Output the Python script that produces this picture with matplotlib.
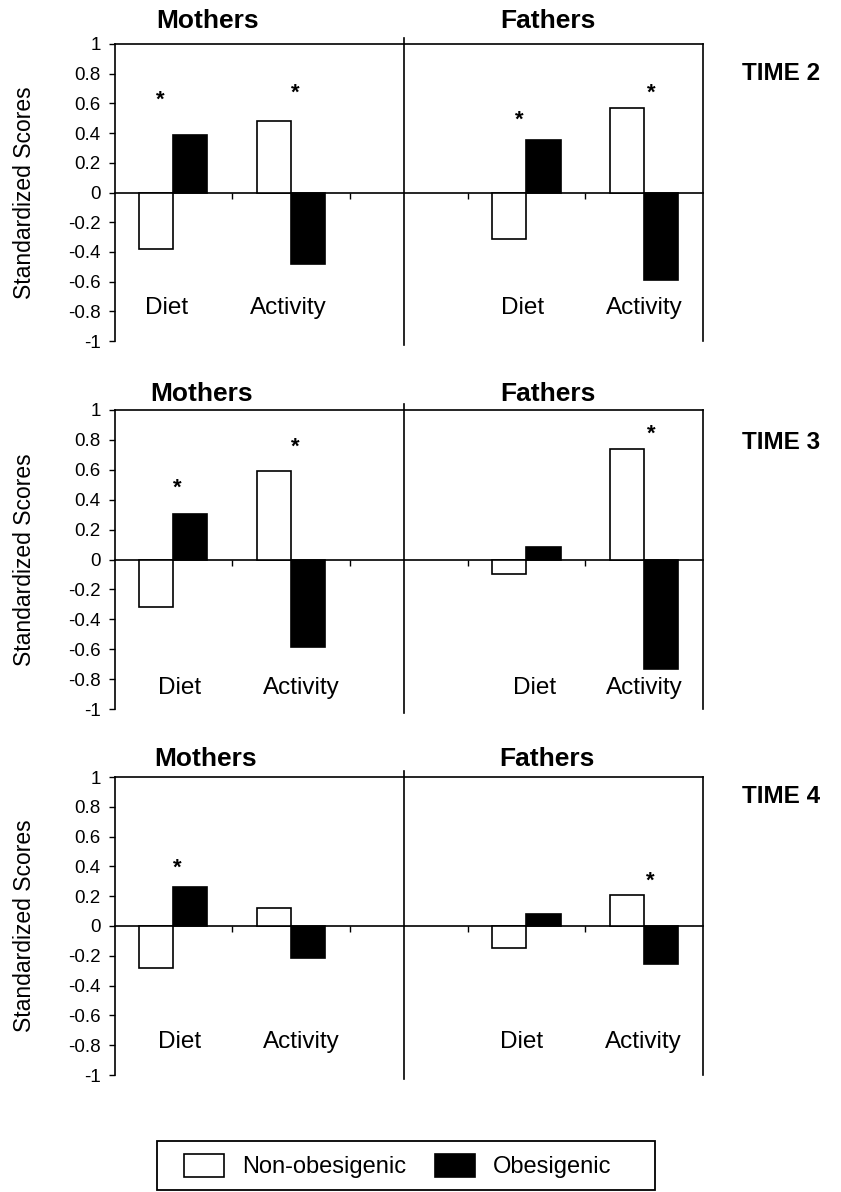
import matplotlib
matplotlib.use("Agg")
import matplotlib.pyplot as plt
from matplotlib.patches import Patch, Rectangle
from matplotlib.transforms import blended_transform_factory

plt.rcParams['font.family'] = ['Liberation Sans', 'DejaVu Sans']

# ---------------- data ----------------
parents = ["Mothers", "Fathers"]
measures = ["Diet", "Activity"]
times = ["TIME 2", "TIME 3", "TIME 4"]
series_names = ["Non-obesigenic", "Obesigenic"]

# order: Mothers-Diet, Mothers-Activity, Fathers-Diet, Fathers-Activity
non_obes_t2 = [-0.38, 0.48, -0.31, 0.57]
obes_t2 = [0.39, -0.48, 0.355, -0.59]
non_obes_t3 = [-0.32, 0.59, -0.10, 0.74]
obes_t3 = [0.305, -0.585, 0.083, -0.73]
non_obes_t4 = [-0.28, 0.12, -0.145, 0.21]
obes_t4 = [0.265, -0.215, 0.083, -0.253]

# significance markers (True = *), with the height at which the * is shown
sig_t2 = [True, True, True, True]
sig_t3 = [True, True, False, True]
sig_t4 = [True, False, False, True]
star_y_t2 = [0.62, 0.67, 0.49, 0.67]
star_y_t3 = [0.48, 0.75, 0.0, 0.84]
star_y_t4 = [0.39, 0.0, 0.0, 0.30]

ytick_values = [-1, -0.8, -0.6, -0.4, -0.2, 0, 0.2, 0.4, 0.6, 0.8, 1]
ytick_labels = ["-1", "-0.8", "-0.6", "-0.4", "-0.2", "0", "0.2", "0.4", "0.6", "0.8", "1"]
ylabel = "Standardized Scores"

non_all = [non_obes_t2, non_obes_t3, non_obes_t4]
obes_all = [obes_t2, obes_t3, obes_t4]
sig_all = [sig_t2, sig_t3, sig_t4]
stary_all = [star_y_t2, star_y_t3, star_y_t4]

# ---------------- layout ----------------
W, H = 841, 1192
fig = plt.figure(figsize=(W / 100, H / 100), dpi=100)
fig.patch.set_facecolor("white")

left_px, right_px = 114.5, 703
panels_px = [(44, 341), (410, 709), (777, 1075)]
title_y = [1.077, 1.054, 1.06]
time_y = [0.902, 0.890, 0.936]
cat_label_y = [-0.78, -0.86, -0.78]
cat_label_dx = [[-0.055, -0.025, -0.03, 0.0],
                [0.05, 0.09, 0.07, 0.0],
                [0.05, 0.09, -0.04, -0.01]]
star_dx = [[-0.11, 0.04, -0.06, 0.06],
           [0.03, 0.04, 0.0, 0.06],
           [0.03, 0.0, 0.0, 0.05]]
title_x = [[0.29, 3.18], [0.24, 3.18], [0.27, 3.17]]
divider_x = 1.96
bw = 0.29
lw = 1.2

for i in range(3):
    top, bot = panels_px[i]
    ax = fig.add_axes([left_px / W, 1 - bot / H, (right_px - left_px) / W, (bot - top) / H])
    xpos = [p * 3 + m for p in range(len(parents)) for m in range(len(measures))]
    ax.bar([x - bw / 2 for x in xpos], non_all[i], width=bw, color="white",
           edgecolor="black", linewidth=lw, label=series_names[0], zorder=3)
    ax.bar([x + bw / 2 for x in xpos], obes_all[i], width=bw, color="black",
           edgecolor="black", linewidth=lw, label=series_names[1], zorder=3)
    ax.set_xlim(-0.5, 4.5)
    ax.set_ylim(-1, 1)

    ax.spines["bottom"].set_position(("data", 0))
    for s in ["left", "top", "right", "bottom"]:
        ax.spines[s].set_linewidth(lw)
        ax.spines[s].set_color("black")
    ax.set_xticks([0.5, 1.5, 2.5, 3.5])
    ax.set_xticklabels([])
    ax.tick_params(axis="x", direction="out", length=4.5, width=1.0)
    ax.set_yticks(ytick_values)
    ax.set_yticklabels(ytick_labels, fontsize=13.5)
    ax.tick_params(axis="y", direction="out", length=4, width=1.0, pad=6)

    ax.axvline(divider_x, ymin=-0.012, ymax=1.02, color="black", linewidth=lw,
               clip_on=False, zorder=4)

    # category labels
    for k, x in enumerate(xpos):
        ax.text(x + cat_label_dx[i][k], cat_label_y[i], measures[k % 2],
                ha="center", va="center", fontsize=17.5)
        if sig_all[i][k]:
            ax.text(x + star_dx[i][k], stary_all[i][k], "*", ha="center",
                    va="center", fontsize=16, fontweight="bold")

    trans = blended_transform_factory(ax.transData, ax.transAxes)
    for p in range(len(parents)):
        ax.text(title_x[i][p], title_y[i], parents[p], transform=trans,
                ha="center", va="center", fontsize=19, fontweight="bold")

    ax.text(1.133, time_y[i], times[i], transform=ax.transAxes, ha="center",
            va="center", fontsize=17.5, fontweight="bold")

    ax.set_ylabel(ylabel, fontsize=16.5)
    ax.yaxis.label.set_va("center")
    ax.yaxis.set_label_coords((25 - left_px) / (right_px - left_px), 0.5)

# ---------------- legend ----------------
handles = [Patch(facecolor="white", edgecolor="black", linewidth=1.2),
           Patch(facecolor="black", edgecolor="black", linewidth=1.2)]
fig.legend(handles, series_names, ncol=2, frameon=False, loc="center left",
           bbox_to_anchor=(184 / W, 1 - 1166 / H), borderaxespad=0, borderpad=0,
           fontsize=17, handlelength=1.7, handleheight=1.15, handletextpad=0.76,
           columnspacing=1.2)
fig.add_artist(Rectangle((157 / W, 2 / H), (655 - 157) / W, 49 / H,
                         transform=fig.transFigure, fill=False, edgecolor="black",
                         linewidth=1.3, clip_on=False))

fig.savefig("out.png", dpi=100, facecolor="white")
